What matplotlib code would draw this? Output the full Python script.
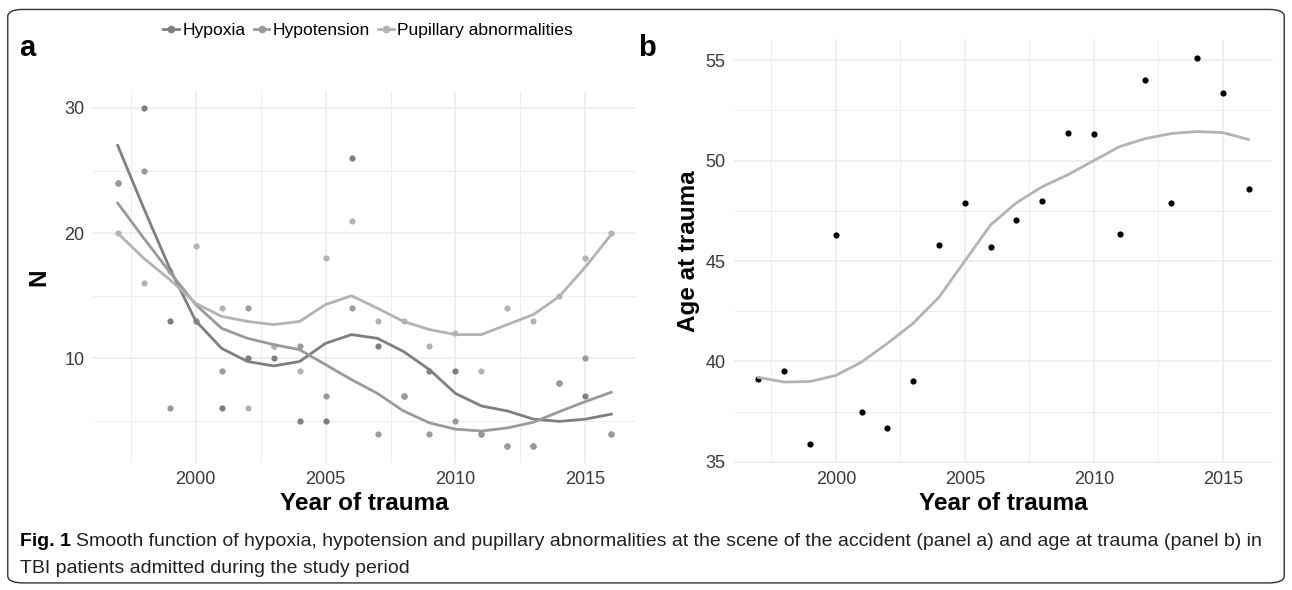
import numpy as np
import matplotlib
matplotlib.use("Agg")
from matplotlib import pyplot as plt
from matplotlib.patches import FancyBboxPatch
from matplotlib.lines import Line2D
from matplotlib.ticker import MultipleLocator

plt.rcParams['font.family'] = ['Liberation Sans', 'DejaVu Sans']

years = list(range(1997, 2017))

# panel a: yearly counts
hypoxia = [24, 30, 13, 13, 6, 10, 10, 5, 5, 26, 11, 7, 9, 9, 4, 3, 3, 8, 7, 4]
hypotension = [24, 25, 6, 13, 9, 14, 11, 11, 7, 14, 4, 7, 4, 5, 4, 3, 3, 8, 10, 4]
pupillary = [20, 16, 17, 19, 14, 6, 11, 9, 18, 21, 13, 13, 11, 12, 9, 14, 13, 15, 18, 20]

# smooth fits
hypoxia_fit = [27, 22, 17.2, 13, 10.8, 9.75, 9.4, 9.75, 11.2, 11.9, 11.6, 10.55, 9.1, 7.2, 6.2,
               5.8, 5.15, 4.97, 5.15, 5.55]
hypotension_fit = [22.4, 19.6, 16.9, 14.3, 12.4, 11.6, 11.1, 10.7, 9.5, 8.3, 7.2, 5.8, 4.85, 4.35, 4.2,
                   4.45, 4.9, 5.75, 6.55, 7.3]
pupillary_fit = [20, 18, 16.3, 14.4, 13.35, 12.95, 12.7, 12.95, 14.3, 15.0, 14.0, 12.95, 12.3, 11.9, 11.9,
                 12.7, 13.5, 14.95, 17.3, 19.9]

# panel b: mean age at trauma
age = [39.1, 39.5, 35.9, 46.3, 37.5, 36.7, 39.0, 45.8, 47.9, 45.7, 47.05, 48.0, 51.4, 51.35, 46.35,
       54.0, 47.9, 55.1, 53.35, 48.6]
age_fit = [39.2, 38.97, 39.0, 39.3, 39.97, 40.9, 41.9, 43.2, 45.0, 46.8, 47.9, 48.7, 49.3, 50.0, 50.7,
           51.1, 51.35, 51.45, 51.4, 51.05]

series_names = ['Hypoxia', 'Hypotension', 'Pupillary abnormalities']
series_colors = ['#7f7f7f', '#9a9a9a', '#b3b3b3']

tick_color = '#3a3a3a'
grid_color = '#ebebeb'


def style_axes(ax):
    for s in ax.spines.values():
        s.set_visible(False)
    ax.set_axisbelow(True)
    ax.grid(which='major', color=grid_color, linewidth=1.1)
    ax.grid(which='minor', color=grid_color, linewidth=0.6)
    ax.tick_params(which='both', length=0, labelsize=13, labelcolor=tick_color, pad=6)
    ax.xaxis.set_major_locator(MultipleLocator(5))
    ax.xaxis.set_minor_locator(MultipleLocator(2.5))
    ax.set_xlim(1996.05, 2016.95)
    ax.set_xlabel('Year of trauma', fontsize=17.5, fontweight='bold', labelpad=3)


fig = plt.figure(figsize=(12.92, 5.9), dpi=100)

# outer frame with rounded corners
frame = FancyBboxPatch((0.006, 0.012), 0.988, 0.972, boxstyle="round,pad=0,rounding_size=0.012",
                       transform=fig.transFigure, fill=False, edgecolor='#333333', linewidth=1.0)
fig.patches.append(frame)

ax1 = fig.add_axes([0.072, 0.2153, 0.4203, 0.6305])
ax2 = fig.add_axes([0.5681, 0.2153, 0.4172, 0.7186])

# panel a
for vals, fit, col in zip([hypoxia, hypotension, pupillary],
                          [hypoxia_fit, hypotension_fit, pupillary_fit], series_colors):
    ax1.scatter(years, vals, s=20, color=col, zorder=3, linewidths=0)
    ax1.plot(years, fit, color=col, linewidth=2.0, zorder=4, solid_joinstyle='round')

style_axes(ax1)
ax1.yaxis.set_major_locator(MultipleLocator(10))
ax1.yaxis.set_minor_locator(MultipleLocator(5))
ax1.set_ylim(1.65, 31.35)
ax1.set_ylabel('N', fontsize=17.5, fontweight='bold', labelpad=10)

# legend keys: line with a point in the middle
keys = [Line2D([0], [0], color=c, linewidth=2, marker='o', markersize=4.5) for c in series_colors]
fig.legend(keys, series_names, loc='center', bbox_to_anchor=(0.285, 0.949), ncol=3, frameon=False,
           fontsize=12.6, handlelength=0.9, handletextpad=0.2, columnspacing=0.45)

# panel b
ax2.scatter(years, age, s=20, color='black', zorder=3, linewidths=0)
ax2.plot(years, age_fit, color='#b3b3b3', linewidth=2.0, zorder=4, solid_joinstyle='round')
style_axes(ax2)
ax2.yaxis.set_major_locator(MultipleLocator(5))
ax2.yaxis.set_minor_locator(MultipleLocator(2.5))
ax2.set_ylim(34.94, 56.06)
ax2.set_ylabel('Age at trauma', fontsize=17.5, fontweight='bold', labelpad=4)

# panel letters
fig.text(0.015, 0.918, 'a', fontsize=21, fontweight='bold', va='center')
fig.text(0.494, 0.918, 'b', fontsize=21, fontweight='bold', va='center')

# caption
fig.canvas.draw()
renderer = fig.canvas.get_renderer()
fig_label = fig.text(0.0155, 0.083, 'Fig. 1', fontsize=14, fontweight='bold', va='center')
bb = fig_label.get_window_extent(renderer).transformed(fig.transFigure.inverted())
fig.text(bb.x1 + 0.004, 0.083, 'Smooth function of hypoxia, hypotension and pupillary abnormalities at the scene of '
         'the accident (panel a) and age at trauma (panel b) in', fontsize=14, va='center', color='#222222')
fig.text(0.0155, 0.037, 'TBI patients admitted during the study period', fontsize=14,
         va='center', color='#222222')

fig.savefig('out.png', dpi=100)
